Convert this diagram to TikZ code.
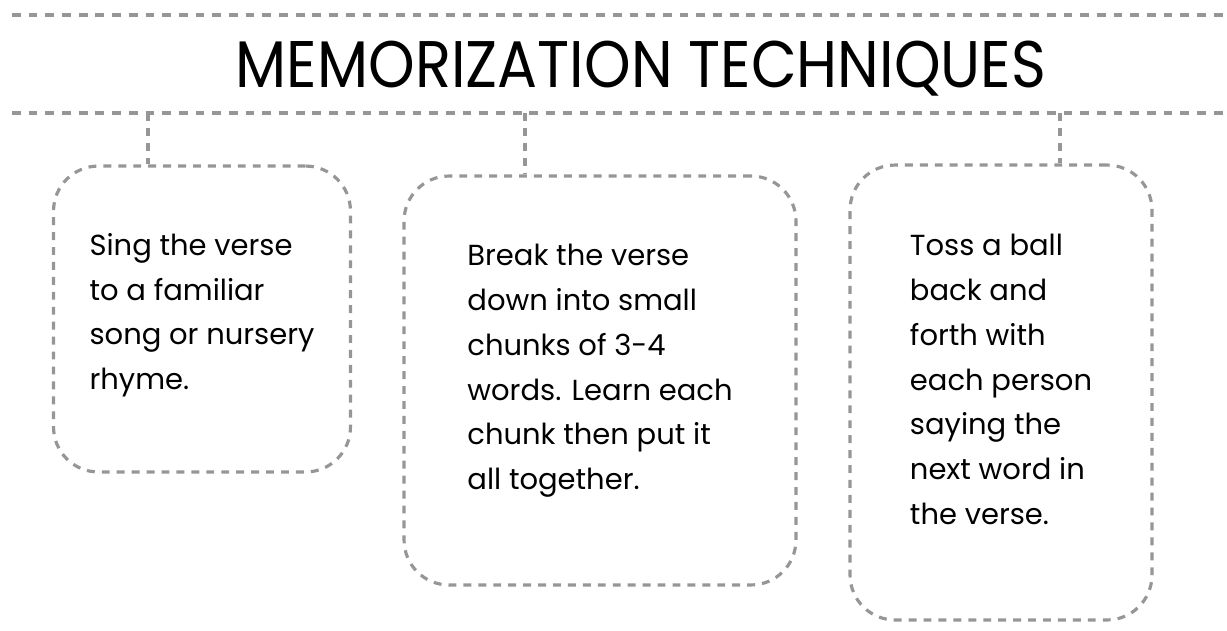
\documentclass[tikz,border=0pt]{standalone}
\usepackage{fontspec}
\setmainfont{Poppins}
\definecolor{dashgray}{RGB}{150,150,150}
\tikzset{
  rule/.style={draw=dashgray, line width=2pt, dash pattern=on 5pt off 4.5pt},
  link/.style={draw=dashgray, line width=1.8pt, dash pattern=on 4.5pt off 4pt},
  card/.style={draw=dashgray, line width=1.8pt, dash pattern=on 4.5pt off 4pt,
    rounded corners=0.9cm, align=left, inner sep=0pt,
    font=\fontsize{16.5}{25.5}\selectfont},
}
\begin{document}
\begin{tikzpicture}[x=0.02cm, y=-0.02cm]
\useasboundingbox (0,0) rectangle (1227,630);
% rules and title
\coordinate (topL) at (12,15);
\coordinate (topR) at (1227,15);
\coordinate (midL) at (12,113);
\coordinate (midR) at (1227,113);
\draw[rule] (topL) -- (topR);
\draw[rule] (midL) -- (midR);
\node[font=\fontsize{37.5}{38}\selectfont] (title) at (641,69) {\scalebox{0.9}[1]{MEMORIZATION TECHNIQUES}};
% the three cards
\node[card, text depth=8.5pt, minimum width=5.94cm, minimum height=6.12cm] (sing) at (202,319) {Sing the verse\\to a familiar\\song or nursery\\rhyme.};
\node[card, text depth=15.5pt, minimum width=7.84cm, minimum height=8.18cm] (chunk) at (600,380.5) {Break the verse\\down into small\\chunks of 3-4\\words. Learn each\\chunk then put it\\all together.};
\node[card, text depth=15pt, minimum width=6.04cm, minimum height=9.1cm] (toss) at (1001,392.5) {Toss a ball\\back and\\forth with\\each person\\saying the\\next word in\\the verse.};
% connectors
\coordinate (c1) at (148,113);
\coordinate (c2) at (525,113);
\coordinate (c3) at (1060,113);
\draw[link] (c1) -- (c1 |- sing.north);
\draw[link] (c2) -- (c2 |- chunk.north);
\draw[link] (c3) -- (c3 |- toss.north);
\end{tikzpicture}
\end{document}
